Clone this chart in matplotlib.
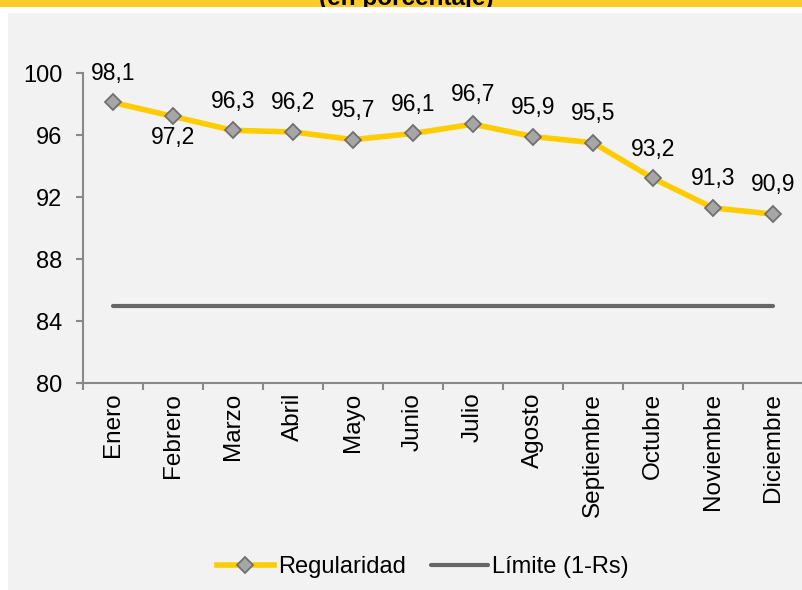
import numpy as np
import matplotlib
matplotlib.use("Agg")
import matplotlib.pyplot as plt
from matplotlib.patches import Rectangle

plt.rcParams['font.family'] = ['Liberation Sans', 'DejaVu Sans']

meses = ['Enero', 'Febrero', 'Marzo', 'Abril', 'Mayo', 'Junio', 'Julio',
         'Agosto', 'Septiembre', 'Octubre', 'Noviembre', 'Diciembre']
regularidad = [98.1, 97.2, 96.3, 96.2, 95.7, 96.1, 96.7, 95.9, 95.5, 93.2, 91.3, 90.9]
limite = [85] * 12
yticks = [80, 84, 88, 92, 96, 100]

W, H = 803, 590
fig = plt.figure(figsize=(W / 100, H / 100), dpi=100)
fig.patch.set_facecolor('white')

# franja amarilla superior, banda blanca y panel gris
fig.patches.append(Rectangle((0, 1 - 7.5 / H), 1, 7.5 / H, transform=fig.transFigure,
                             facecolor='#FFCC29', edgecolor='none', zorder=0))
fig.patches.append(Rectangle((0, 1 - 13 / H), 1, 5.5 / H, transform=fig.transFigure,
                             facecolor='white', edgecolor='none', zorder=5))
fig.patches.append(Rectangle((8 / W, 0), 1 - 8 / W, 1 - 13 / H, transform=fig.transFigure,
                             facecolor='#F2F2F2', edgecolor='none', zorder=0))
fig.text(406 / W, 1 - 5 / H, '(en porcentaje)', ha='center', va='baseline',
         fontsize=17.5, fontweight='bold', color='black', zorder=1)

ax = fig.add_axes([83 / W, 1 - 383 / H, 1 - 83 / W, (383 - 73) / H])
ax.set_facecolor('none')
ax.set_zorder(2)

x = np.arange(len(meses))
ax.plot(x, limite, color='#666666', lw=3, solid_capstyle='round', label='Límite (1-Rs)', zorder=2)
ax.plot(x, regularidad, color='#FFCC00', lw=4, marker='D', markersize=8,
        markerfacecolor='#A6A6A6', markeredgecolor='#707070', markeredgewidth=1.3,
        label='Regularidad', zorder=3)

for i, v in enumerate(regularidad):
    dy = -15 if meses[i] == 'Febrero' else 21
    ax.annotate(f'{v:.1f}'.replace('.', ','), (x[i], v), xytext=(0, dy),
                textcoords='offset points', ha='center', va='center', fontsize=16.5)

ax.set_xlim(-0.5, len(meses) - 0.5)
ax.set_ylim(80, 100)
ax.set_yticks(yticks)
ax.set_yticklabels([str(t) for t in yticks], fontsize=17)
ax.set_xticks(x)
ax.set_xticklabels(meses, rotation=90, fontsize=17.5, va='top', ha='center')
ax.set_xticks(np.arange(len(meses) + 1) - 0.5, minor=True)

for s in ['top', 'right']:
    ax.spines[s].set_visible(False)
for s in ['left', 'bottom']:
    ax.spines[s].set_color('#898989')
    ax.spines[s].set_linewidth(1.5)

ax.tick_params(axis='y', length=5, width=1.5, color='#898989', pad=10)
ax.tick_params(axis='x', which='major', length=0, pad=7)
ax.tick_params(axis='x', which='minor', length=5, width=1.5, color='#898989')

handles, labels = ax.get_legend_handles_labels()
leg = fig.legend(handles[::-1], labels[::-1], loc='center', bbox_to_anchor=(423 / W, 1 - 567 / H),
                 ncol=2, frameon=False, fontsize=17, handlelength=2.4, handletextpad=0.2,
                 columnspacing=1.05)

fig.savefig('out.png', dpi=100, facecolor=fig.get_facecolor())
